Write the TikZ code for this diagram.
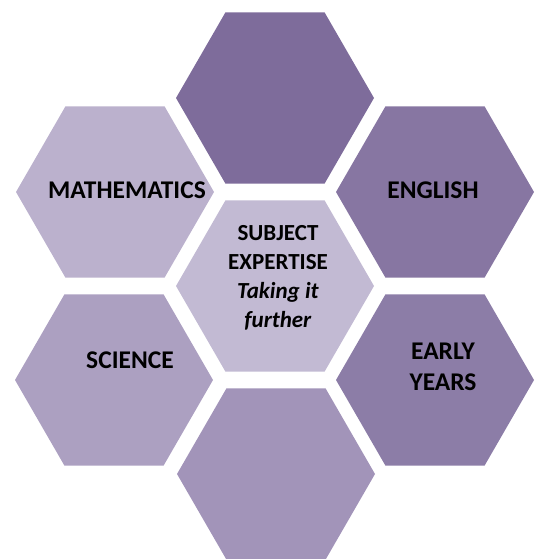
\documentclass[tikz,border=0pt]{standalone}
\usepackage{fontspec}
\setmainfont{Carlito}
\usetikzlibrary{shapes.geometric}
\definecolor{hexTop}{RGB}{126,108,155}
\definecolor{hexMath}{RGB}{187,177,205}
\definecolor{hexEng}{RGB}{135,118,162}
\definecolor{hexCenter}{RGB}{194,186,211}
\definecolor{hexSci}{RGB}{172,160,193}
\definecolor{hexEarly}{RGB}{140,125,167}
\definecolor{hexBottom}{RGB}{162,148,185}
\begin{document}
\begin{tikzpicture}[x=1pt,y=-1pt,
  hexa/.style={regular polygon, regular polygon sides=6, minimum size=198pt,
    inner sep=0pt, draw=none, fill=#1},
  lab/.style={font=\bfseries\fontsize{25.5}{31}\selectfont, align=center,
    inner sep=0pt, text=black},
  clab/.style={font=\bfseries\fontsize{23}{29}\selectfont, align=center,
    inner sep=0pt, text=black}]
\useasboundingbox (0,0) rectangle (535,559);
\clip (0,0) rectangle (535,559);
\node[hexa=hexTop] (top) at (275,98) {};
\node[hexa=hexMath] (math) at (115,192) {};
\node[hexa=hexEng] (eng) at (435,192) {};
\node[hexa=hexCenter] (center) at (275,286) {};
\node[hexa=hexSci] (sci) at (114,380) {};
\node[hexa=hexEarly] (early) at (435,380) {};
\node[hexa=hexBottom] (bottom) at (276,474) {};
\node[lab] (mathlab) at (127,190) {MATHEMATICS};
\node[lab] (englab) at (433,190) {ENGLISH};
\node[lab] (scilab) at (130,360) {SCIENCE};
\node[lab] (earlylab) at (443,367) {EARLY\\YEARS};
\node[clab] (centerlab) at (278,278) {SUBJECT\\EXPERTISE\\\textit{Taking it}\\\textit{further}};
\end{tikzpicture}
\end{document}
